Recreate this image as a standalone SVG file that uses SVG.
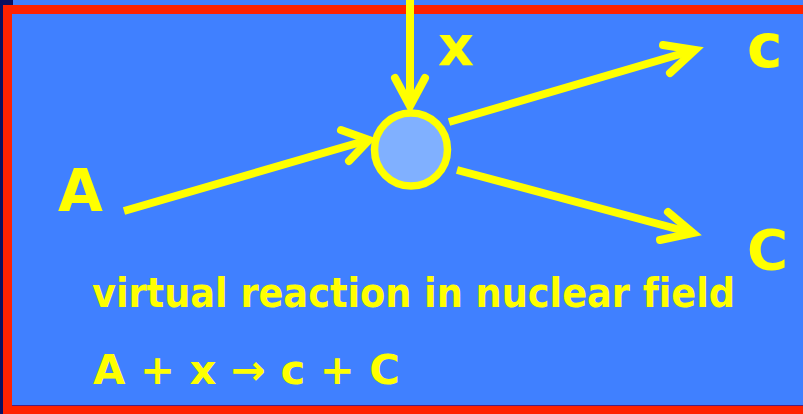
<svg xmlns="http://www.w3.org/2000/svg" width="803" height="414" viewBox="0 0 803 414">
<defs>
<style>
.ln{stroke:#FFFF00;stroke-width:8;fill:none;stroke-linecap:butt}
.hd{stroke:#FFFF00;stroke-width:8;fill:none;stroke-linecap:round;stroke-linejoin:miter}
.lbl{font-family:"DejaVu Sans","Liberation Sans",sans-serif;font-weight:bold;fill:#FFFF00;font-variant-ligatures:none}
</style>
</defs>
<rect x="0" y="0" width="803" height="414" fill="#4080FF"/>
<rect x="0" y="0" width="13" height="6" fill="#0A1060"/>
<rect x="0" y="0" width="3" height="414" fill="#0A1060"/>
<rect x="3" y="5" width="800" height="9" fill="#FF2200"/>
<rect x="3" y="5" width="9" height="409" fill="#FF2200"/>
<rect x="3" y="406" width="800" height="8" fill="#FF2200"/>
<line x1="12" y1="405.5" x2="803" y2="405.5" stroke="#502080" stroke-width="1"/>
<g id="connectors">
<line class="ln" x1="410" y1="0" x2="410" y2="106"/>
<polyline class="hd" points="395,78 410,106 425,78"/>
<line class="ln" x1="124" y1="211" x2="368" y2="140"/>
<polyline class="hd" points="341,130 369,140 349,161"/>
<line class="ln" x1="449" y1="122" x2="694" y2="50"/>
<polyline class="hd" points="663,45 695,50 670,73"/>
<line class="ln" x1="457" y1="170" x2="692" y2="233"/>
<polyline class="hd" points="668,212 693,233 660,240"/>
</g>
<g id="vertex">
<circle cx="411" cy="149.5" r="36.5" fill="#80B0FF" stroke="#FFFF00" stroke-width="7.5"/>
</g>
<g id="node-A"><text class="lbl" x="58" y="211" font-size="58">A</text></g>
<g id="node-x"><text class="lbl" x="438" y="65" font-size="56">x</text></g>
<g id="node-c"><text class="lbl" x="747" y="67" font-size="60">c</text></g>
<g id="node-C"><text class="lbl" x="747" y="269" font-size="56">C</text></g>
<g id="caption">
<text class="lbl" x="92" y="307" font-size="41" textLength="643" lengthAdjust="spacingAndGlyphs">virtual reaction in nuclear field</text>
<text class="lbl" x="93" y="384" font-size="41" textLength="307" lengthAdjust="spacingAndGlyphs">A + x → c + C</text>
</g>
</svg>
